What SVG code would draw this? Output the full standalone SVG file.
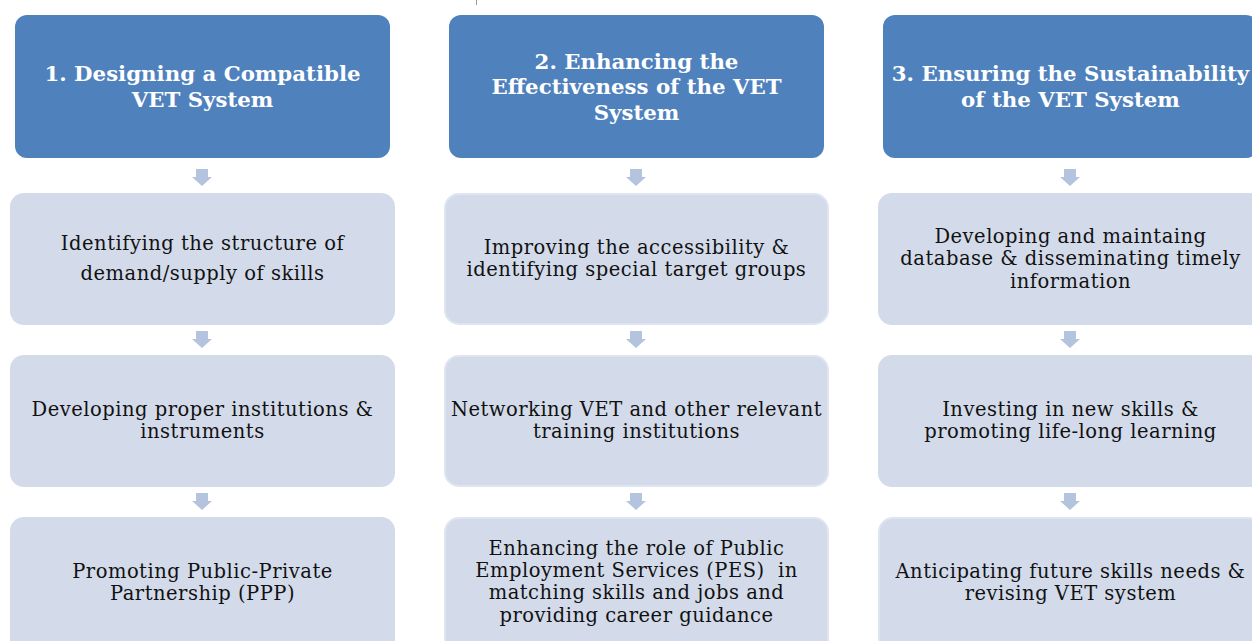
<svg xmlns="http://www.w3.org/2000/svg" width="1252" height="641" viewBox="0 0 1252 641">
<style>
.hdr{fill:#4f81bd}
.box{fill:#d3dbea}
.bord{stroke:#dfe5f0;stroke-width:2}
.ht{font-family:"DejaVu Serif","Liberation Serif",serif;font-weight:bold;font-size:21.3px;fill:#ffffff;text-anchor:middle}
.bt{font-family:"DejaVu Serif","Liberation Serif",serif;font-size:19.5px;letter-spacing:0.5px;fill:#111111;text-anchor:middle}
.arr{fill:#b4c4de}
</style>
<defs>
<path id="dn" d="M-6,0 H6 V8 H10 L0,17 L-10,8 H-6 Z"/>
</defs>
<line x1="476.5" y1="0" x2="476.5" y2="5" stroke="#999" stroke-width="1"/>
<g id="connectors">
<use href="#dn" class="arr" x="202" y="169"/>
<use href="#dn" class="arr" x="202" y="331"/>
<use href="#dn" class="arr" x="202" y="493"/>
<use href="#dn" class="arr" x="636" y="169"/>
<use href="#dn" class="arr" x="636" y="331"/>
<use href="#dn" class="arr" x="636" y="493"/>
<use href="#dn" class="arr" x="1070" y="169"/>
<use href="#dn" class="arr" x="1070" y="331"/>
<use href="#dn" class="arr" x="1070" y="493"/>
</g>
<g id="h1"><rect class="hdr" x="15" y="15" width="375" height="143" rx="12"/>
<text class="ht" x="202.5" y="81">1. Designing a Compatible</text>
<text class="ht" x="202.5" y="107">VET System</text></g>
<g id="h2"><rect class="hdr" x="449" y="15" width="375" height="143" rx="12"/>
<text class="ht" x="636.5" y="69">2. Enhancing the</text>
<text class="ht" x="636.5" y="94">Effectiveness of the VET</text>
<text class="ht" x="636.5" y="120">System</text></g>
<g id="h3"><rect class="hdr" x="883" y="15" width="375" height="143" rx="12"/>
<text class="ht" x="1070.5" y="81">3. Ensuring the Sustainability</text>
<text class="ht" x="1070.5" y="107">of the VET System</text></g>

<g id="b11"><rect class="box" x="10" y="193" width="385" height="132" rx="14"/>
<text class="bt" x="202.5" y="250">Identifying the structure of</text>
<text class="bt" x="202.5" y="280">demand/supply of skills</text></g>
<g id="b12"><rect class="box" x="10" y="355" width="385" height="132" rx="14"/>
<text class="bt" x="202.5" y="416">Developing proper institutions &amp;</text>
<text class="bt" x="202.5" y="438">instruments</text></g>
<g id="b13"><rect class="box" x="10" y="517" width="385" height="140" rx="14"/>
<text class="bt" x="202.5" y="578">Promoting Public-Private</text>
<text class="bt" x="202.5" y="600">Partnership (PPP)</text></g>

<g id="b21"><rect class="box bord" x="445" y="194" width="383" height="130" rx="14"/>
<text class="bt" x="636.5" y="254">Improving the accessibility &amp;</text>
<text class="bt" x="636.5" y="276">identifying special target groups</text></g>
<g id="b22"><rect class="box bord" x="445" y="356" width="383" height="130" rx="14"/>
<text class="bt" x="636.5" y="416">Networking VET and other relevant</text>
<text class="bt" x="636.5" y="438">training institutions</text></g>
<g id="b23"><rect class="box bord" x="445" y="518" width="383" height="140" rx="14"/>
<text class="bt" x="636.5" y="555">Enhancing the role of Public</text>
<text class="bt" x="636.5" y="577" xml:space="preserve">Employment Services (PES)  in</text>
<text class="bt" x="636.5" y="599">matching skills and jobs and</text>
<text class="bt" x="636.5" y="622">providing career guidance</text></g>

<g id="b31"><rect class="box" x="878" y="193" width="385" height="132" rx="14"/>
<text class="bt" x="1070.5" y="243">Developing and maintaing</text>
<text class="bt" x="1070.5" y="265">database &amp; disseminating timely</text>
<text class="bt" x="1070.5" y="288">information</text></g>
<g id="b32"><rect class="box" x="878" y="355" width="385" height="132" rx="14"/>
<text class="bt" x="1070.5" y="416">Investing in new skills &amp;</text>
<text class="bt" x="1070.5" y="438">promoting life-long learning</text></g>
<g id="b33"><rect class="box bord" x="879" y="518" width="383" height="140" rx="14"/>
<text class="bt" x="1070.5" y="578">Anticipating future skills needs &amp;</text>
<text class="bt" x="1070.5" y="600">revising VET system</text></g>
</svg>
